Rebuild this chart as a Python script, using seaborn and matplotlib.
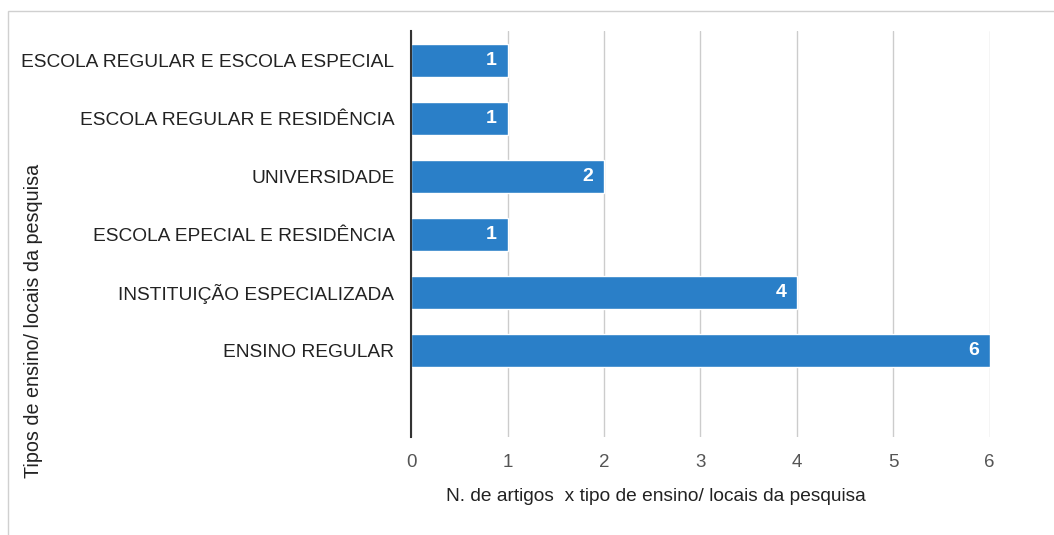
import matplotlib
matplotlib.use("Agg")
import matplotlib.pyplot as plt
import seaborn as sns
import pandas as pd
from matplotlib.patches import Rectangle

# data
categorias = [
    "ESCOLA REGULAR E ESCOLA ESPECIAL",
    "ESCOLA REGULAR E RESIDÊNCIA",
    "UNIVERSIDADE",
    "ESCOLA EPECIAL E RESIDÊNCIA",
    "INSTITUIÇÃO ESPECIALIZADA",
    "ENSINO REGULAR",
]
n_artigos = [1, 1, 2, 1, 4, 6]
x_ticks = [0, 1, 2, 3, 4, 5, 6]

df = pd.DataFrame({"categoria": categorias, "artigos": n_artigos})

sns.set_theme(style="white")
plt.rcParams['font.family'] = ['Liberation Sans', 'DejaVu Sans']

fig = plt.figure(figsize=(10.54, 5.35), dpi=100)
ax = fig.add_axes([0.39, 0.183, 0.549, 0.759])

sns.barplot(data=df, y="categoria", x="artigos", order=categorias,
            color="#2a7fc8", saturation=1, width=0.57, ax=ax)

for i, v in enumerate(n_artigos):
    ax.text(v - 0.11, i, str(v), color="white", fontweight="bold",
            fontsize=14, ha="right", va="center")

ax.set_xlim(0, 6)
ax.set_ylim(6.5, -0.5)
ax.set_xticks(x_ticks)
ax.set_xticklabels([str(t) for t in x_ticks], color="#555555", fontsize=13.5)
ax.tick_params(axis="x", length=0, pad=12)
ax.tick_params(axis="y", length=0, pad=12, labelsize=13.8, labelcolor="#222222")
ax.xaxis.grid(True, color="#cccccc", linewidth=1)
ax.set_axisbelow(True)
for s in ["top", "right", "bottom"]:
    ax.spines[s].set_visible(False)
ax.spines["left"].set_color("#333333")
ax.spines["left"].set_linewidth(1.5)

ax.set_xlabel("N. de artigos  x tipo de ensino/ locais da pesquisa",
              fontsize=13.8, color="#222222")
ax.xaxis.set_label_coords(0.423, -0.125)
fig.text(0.032, 0.40, "Tipos de ensino/ locais da pesquisa", rotation=90,
         ha="center", va="center", fontsize=14.2, color="#222222")
ax.set_ylabel("")

# light frame around the chart
fig.patches.append(Rectangle((0.008, -0.01), 1.0, 0.99, transform=fig.transFigure,
                             fill=False, edgecolor="#d0d0d0", linewidth=1))

fig.savefig("out.png", dpi=100)
